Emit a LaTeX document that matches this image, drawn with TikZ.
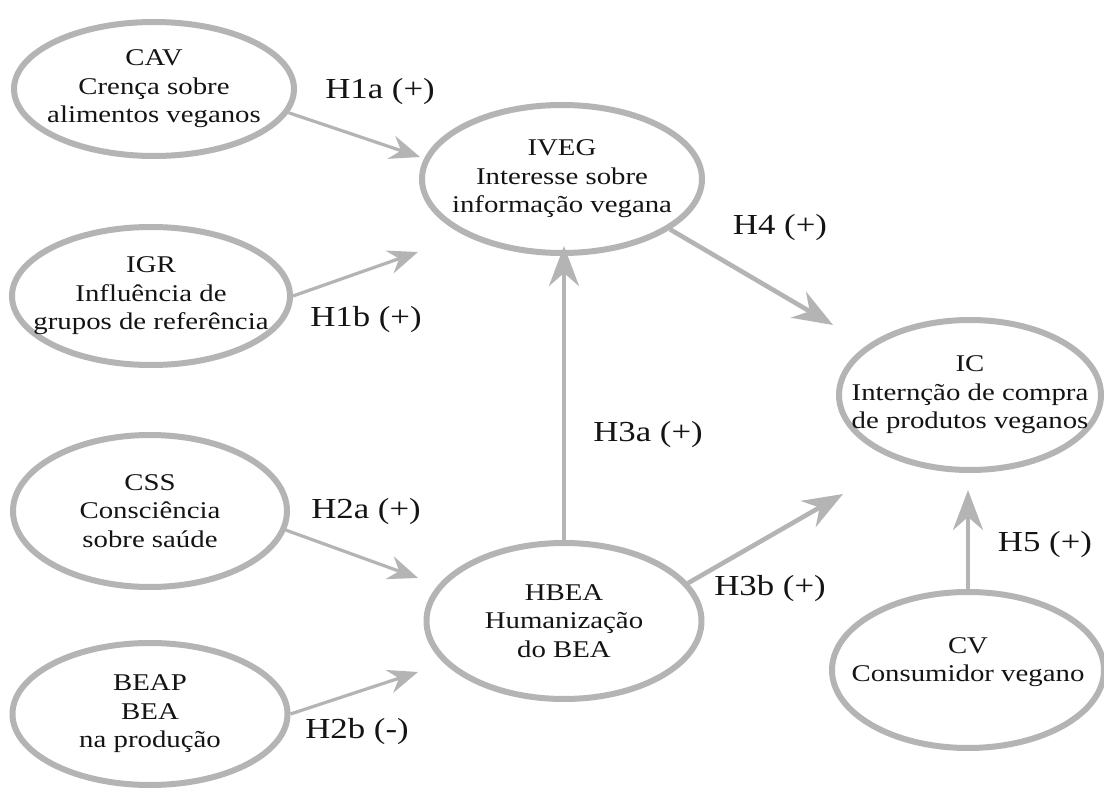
\documentclass[tikz,border=0pt]{standalone}
\usepackage{fontspec}
\setmainfont{Liberation Serif}[FakeStretch=1.2]
\usetikzlibrary{shapes.geometric,arrows.meta}
\definecolor{lg}{RGB}{180,180,180}
\definecolor{tx}{RGB}{20,20,20}
\tikzset{
  cst/.style={ellipse, draw=lg, line width=6pt, fill=white, inner sep=0pt},
  cstxt/.style={align=center, text=tx, inner sep=0pt, font=\fontsize{24}{28.5}\selectfont},
  thin arrow/.style={draw=lg, line width=3.2pt,
    -{Stealth[length=30pt,width=24pt,inset=10pt]}},
  thick arrow/.style={draw=lg, line width=4.6pt,
    -{Stealth[length=40pt,width=30pt,inset=13pt]}},
  hyp/.style={text=tx, font=\fontsize{29}{33}\selectfont, inner sep=0pt}
}
\begin{document}
\begin{tikzpicture}[x=1pt,y=-1pt]
\useasboundingbox[fill=white] (0,0) rectangle (1104,794);
% constructs
\node[cst, minimum width=280pt, minimum height=134pt] (cav) at (154,89) {};
\node[cstxt] (cavt) at (cav) {CAV\\Crença sobre\\alimentos veganos};
\node[cst, minimum width=278pt, minimum height=138pt] (igr) at (151,296) {};
\node[cstxt] (igrt) at (igr) {IGR\\Influência de\\grupos de referência};
\node[cst, minimum width=274pt, minimum height=152pt] (css) at (150,511) {};
\node[cstxt] (csst) at (css) {CSS\\Consciência\\sobre saúde};
\node[cst, minimum width=275pt, minimum height=142pt] (beap) at (150,714) {};
\node[cstxt] (beapt) at (beap) {BEAP\\BEA\\na produção};
\node[cst, minimum width=280pt, minimum height=148pt] (iveg) at (562,179) {};
\node[cstxt] (ivegt) at (iveg) {IVEG\\Interesse sobre\\informação vegana};
\node[cst, minimum width=275pt, minimum height=156pt] (hbea) at (564,621) {};
\node[cstxt] (hbeat) at (hbea) {HBEA\\Humanização\\do BEA};
\node[cst, minimum width=262pt, minimum height=150pt] (ic) at (970,395) {};
\node[cstxt] (ict) at (ic) {IC\\Internção de compra\\de produtos veganos};
\node[cst, minimum width=272pt, minimum height=156pt] (cv) at (968,670) {};
\node[cstxt] (cvt) at ([yshift=8pt]cv) {CV\\Consumidor vegano};
% arrow tips (free ends)
\coordinate (t1a) at (420,157);
\coordinate (t1b) at (418,252);
\coordinate (t2a) at (418,578);
\coordinate (t2b) at (418,672);
\coordinate (t3a) at (564,246);
\coordinate (t3b) at (843,494);
\coordinate (t4) at (833,325);
\coordinate (t5) at (968,490);
% connectors
\draw[thin arrow] (cav.-10) -- (t1a);
\draw[thin arrow] (igr.east) -- (t1b);
\draw[thin arrow] (css.-8) -- (t2a);
\draw[thin arrow] (beap.east) -- (t2b);
\draw[thick arrow] (hbea.north) -- (t3a);
\draw[thick arrow] (hbea.17) -- (t3b);
\draw[thick arrow] (iveg.-25) -- (t4);
\draw[thick arrow] (cv.north) -- (t5);
% labels
\node[hyp] (l1a) at (380,92) {H1a (+)};
\node[hyp] (l1b) at (366,320) {H1b (+)};
\node[hyp] (l2a) at (366,512) {H2a (+)};
\node[hyp] (l2b) at (357,732) {H2b (-)};
\node[hyp] (l3a) at (648,435) {H3a (+)};
\node[hyp] (l3b) at (770,589) {H3b (+)};
\node[hyp] (l4) at (780,228) {H4 (+)};
\node[hyp] (l5) at (1045,545) {H5 (+)};
\end{tikzpicture}
\end{document}
